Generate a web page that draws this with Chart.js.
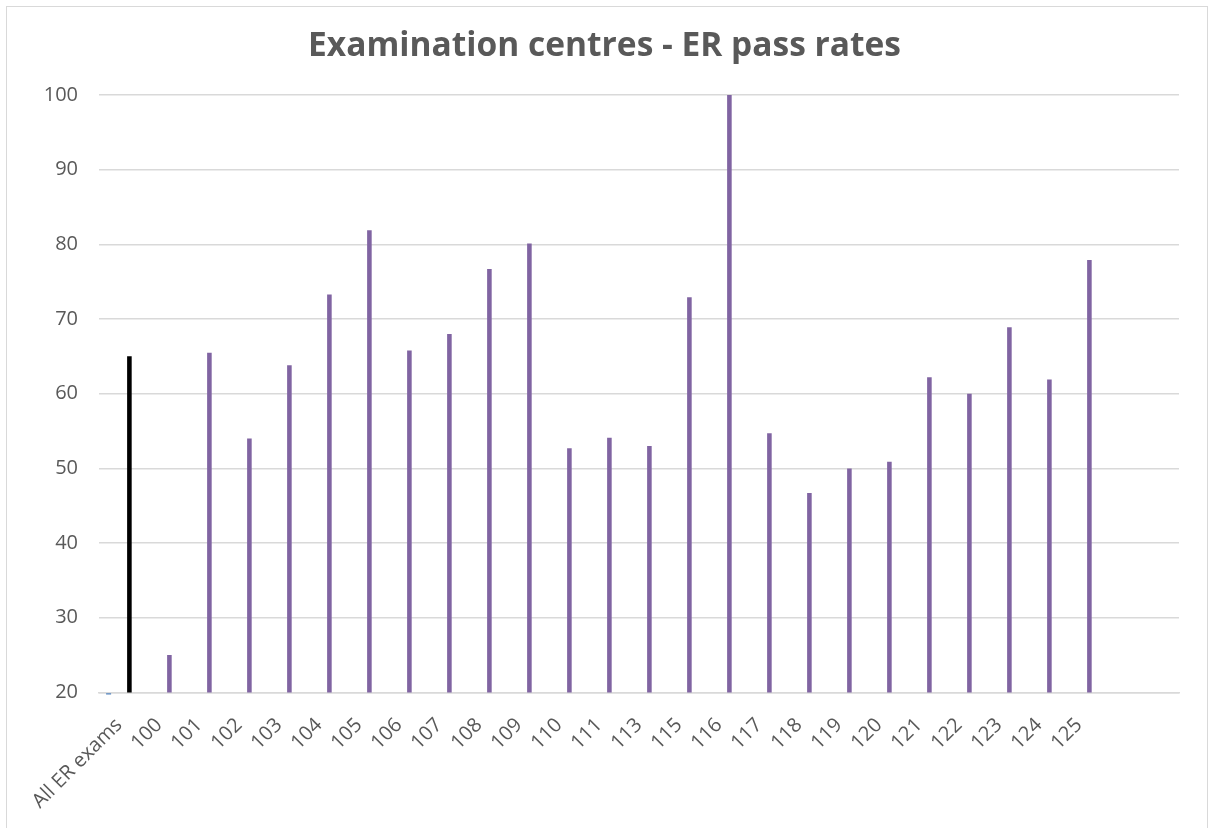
<!DOCTYPE html>
<html>
<head>
<meta charset="utf-8">
<title>Examination centres - ER pass rates</title>
<script src="https://cdn.jsdelivr.net/npm/chart.js@4/dist/chart.umd.min.js"></script>
<style>
  html, body { margin: 0; padding: 0; background: #ffffff; overflow: hidden; }
  #wrap { position: relative; width: 1209px; height: 828px; }
  #frame {
    position: absolute; left: 6px; top: 6px; width: 1200px; height: 830px;
    border: 1px solid #d9d9d9; pointer-events: none;
  }
</style>
</head>
<body>
<div id="wrap">
  <canvas id="passChart" width="1209" height="828"></canvas>
  <div id="frame"></div>
</div>
<script>
// categories on the x axis (two empty slots at the end, as in the original sheet)
const categories = ["All ER exams", "100", "101", "102", "103", "104", "105", "106", "107", "108",
  "109", "110", "111", "113", "115", "116", "117", "118", "119", "120",
  "121", "122", "123", "124", "125", "", ""];

// pass rates (%) per centre
const passRates = [65.0, 25.0, 65.5, 54.0, 63.8, 73.3, 81.9, 65.8, 68.0, 76.7,
  80.1, 52.7, 54.1, 53.0, 72.9, 100, 54.7, 46.7, 50.0, 50.9,
  62.2, 60.0, 68.9, 61.9, 77.9, null, null];

// second series, below the axis minimum so only a stub shows under the axis
const otherSeries = [0, null, null, null, null, null, null, null, null, null,
  null, null, null, null, null, null, null, null, null, null,
  null, null, null, null, null, null, null];

// y axis ticks
const yTicks = [20, 30, 40, 50, 60, 70, 80, 90, 100];
const yMin = 20;

const textGrey = "#595959";
const fontFamily = "'Open Sans', 'Liberation Sans', sans-serif";

// first bar (all exams) is black, the centres are purple
const barColours = passRates.map((v, i) => i === 0 ? "#000000" : "#8064A2");

const ctx = document.getElementById("passChart").getContext("2d");
new Chart(ctx, {
  type: "bar",
  data: {
    labels: categories,
    datasets: [
      {
        label: "Series 1",
        data: otherSeries,
        backgroundColor: "#4F81BD",
        base: yMin, // bars grow from the axis like in Excel, so it is cut just under it
        barPercentage: 0.24,
        categoryPercentage: 1.04,
        clip: { left: 0, top: 0, right: 0, bottom: 2 }
      },
      {
        label: "Pass rate",
        data: passRates,
        backgroundColor: barColours,
        barPercentage: 0.22,
        categoryPercentage: 1.04
      }
    ]
  },
  options: {
    responsive: false,
    animation: false,
    layout: {
      padding: { left: 30, right: 30, top: 0, bottom: 0 }
    },
    plugins: {
      legend: { display: false },
      tooltip: { enabled: false },
      title: {
        display: true,
        text: "Examination centres - ER pass rates",
        color: textGrey,
        font: { family: fontFamily, size: 33.5, weight: "bold" },
        padding: { top: 26.5, bottom: 28.3 }
      }
    },
    scales: {
      x: {
        grid: { display: false, drawTicks: false },
        border: { display: true, color: "#d9d9d9", width: 1.5 },
        ticks: {
          color: textGrey,
          font: { family: fontFamily, size: 20 },
          minRotation: 45,
          maxRotation: 45,
          autoSkip: false,
          padding: 21
        },
        afterFit: function(scale) {
          scale.height = 135.6;
        }
      },
      y: {
        min: yMin,
        max: 100,
        afterBuildTicks: function(scale) {
          scale.ticks = yTicks.map((v) => ({ value: v }));
        },
        grid: { color: "#d9d9d9", lineWidth: 1.5, drawTicks: false },
        border: { display: false },
        ticks: {
          color: textGrey,
          font: { family: fontFamily, size: 20 },
          padding: 21
        },
        afterFit: function(scale) {
          scale.width = 69;
        }
      }
    }
  }
});
</script>
</body>
</html>
